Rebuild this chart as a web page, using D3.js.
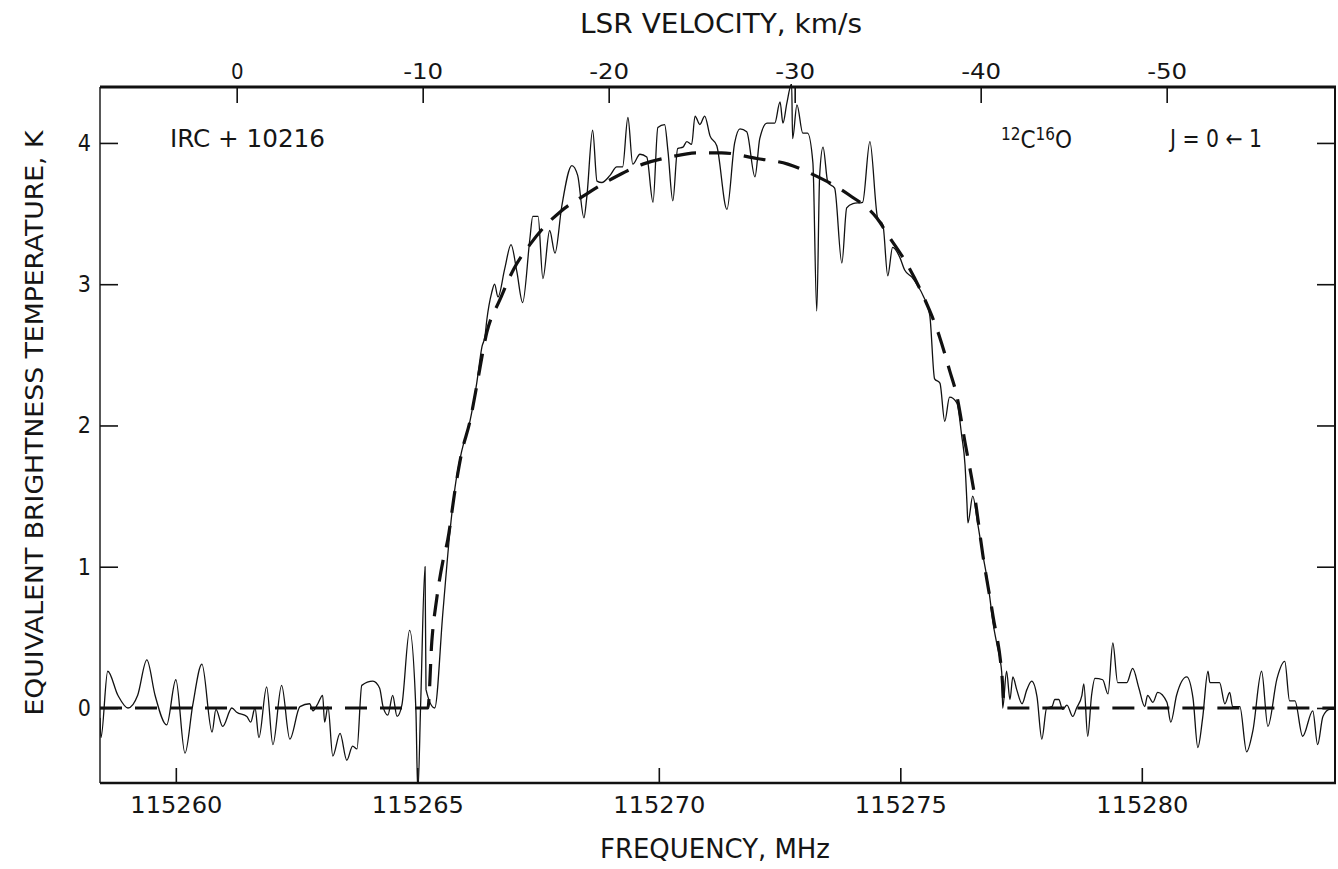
<!DOCTYPE html>
<html><head><meta charset="utf-8">
<script src="https://cdn.jsdelivr.net/npm/d3@7"></script>
<style>
body{margin:0;background:#fff;}
svg{display:block;}
text{font-family:"DejaVu Sans Condensed","DejaVu Sans",sans-serif;fill:#151515;}
</style></head><body>
<svg id="c" width="1338" height="869"></svg>
<script>
// ---- data ----
const freqTicks = [115260, 115265, 115270, 115275, 115280];
const velTicks = [0, -10, -20, -30, -40, -50];
const tempTicks = [0, 1, 2, 3, 4];
const freqDomain = [115258.43, 115284.0];
const tempDomain = [-0.531, 4.396];
const velZeroFreq = 115261.26;   // MHz at LSR velocity 0
const mhzPerKms = 0.3851;        // MHz per km/s

const specFreq = [115258.43,115258.45,115258.59,115258.80,115259.01,115259.21,115259.40,115259.57,115259.81,115260.00,
115260.19,115260.35,115260.54,115260.75,115260.83,115260.97,115261.16,115261.26,115261.47,115261.55,
115261.64,115261.72,115261.88,115262.01,115262.19,115262.36,115262.57,115262.77,115262.84,115262.94,
115263.04,115263.08,115263.15,115263.25,115263.40,115263.54,115263.66,115263.75,115263.85,115264.08,
115264.22,115264.29,115264.39,115264.49,115264.58,115264.68,115264.84,115264.97,115265.01,115265.07,
115265.16,115265.18,115265.36,115265.53,115265.67,115265.78,115265.92,115266.09,115266.23,115266.34,
115266.40,115266.44,115266.54,115266.60,115266.67,115266.81,115266.94,115267.06,115267.18,115267.33,
115267.39,115267.50,115267.60,115267.74,115267.85,115267.99,115268.20,115268.32,115268.45,115268.51,
115268.63,115268.72,115268.82,115268.99,115269.13,115269.25,115269.36,115269.46,115269.61,115269.75,
115269.88,115269.98,115270.12,115270.19,115270.29,115270.39,115270.50,115270.58,115270.68,115270.75,
115270.85,115270.95,115271.06,115271.20,115271.41,115271.57,115271.68,115271.82,115271.99,115272.09,
115272.24,115272.40,115272.51,115272.57,115272.65,115272.75,115272.77,115272.86,115272.98,115273.08,
115273.19,115273.27,115273.33,115273.40,115273.50,115273.64,115273.79,115273.89,115274.02,115274.22,
115274.37,115274.53,115274.64,115274.74,115274.84,115274.99,115275.09,115275.24,115275.36,115275.47,
115275.61,115275.71,115275.82,115275.92,115276.02,115276.17,115276.27,115276.34,115276.38,115276.40,
115276.50,115276.60,115276.71,115276.79,115276.85,115276.92,115277.00,115277.10,115277.12,115277.20,
115277.27,115277.33,115277.41,115277.52,115277.62,115277.72,115277.83,115277.93,115278.03,115278.14,
115278.20,115278.28,115278.36,115278.45,115278.57,115278.65,115278.76,115278.80,115278.88,115278.96,
115279.03,115279.19,115279.30,115279.40,115279.50,115279.69,115279.81,115279.94,115280.06,115280.12,
115280.23,115280.33,115280.52,115280.60,115280.72,115280.93,115281.06,115281.16,115281.26,115281.37,
115281.41,115281.61,115281.72,115281.82,115281.88,115282.03,115282.17,115282.30,115282.48,115282.61,
115282.80,115282.96,115283.06,115283.17,115283.33,115283.54,115283.64,115283.75,115283.89,115284.00];

const specTemp = [-0.07,-0.21,0.26,0.09,0.00,0.09,0.34,0.09,-0.12,0.20,
-0.32,0.02,0.31,-0.17,-0.01,-0.13,0.00,-0.03,-0.06,-0.10,
0.00,-0.21,0.15,-0.26,0.16,-0.22,0.01,0.03,-0.02,0.03,
0.09,-0.10,0.01,-0.34,-0.18,-0.37,-0.27,-0.29,0.16,0.19,
0.14,0.01,-0.05,0.09,-0.06,0.02,0.55,-0.01,-0.60,0.04,
1.00,0.13,0.00,0.68,1.23,1.56,1.82,2.03,2.30,2.56,
2.63,2.75,2.94,3.00,2.91,3.11,3.28,3.09,2.87,3.32,
3.48,3.48,3.04,3.38,3.22,3.55,3.84,3.77,3.47,3.62,
4.09,3.73,3.72,3.77,3.83,3.83,4.18,3.85,3.92,3.90,
3.58,4.11,4.13,3.94,3.59,3.96,3.97,4.01,3.99,4.19,
4.13,4.19,4.05,3.98,3.53,4.00,4.10,4.08,3.76,4.03,
4.14,4.14,4.29,4.14,4.28,4.42,4.03,4.27,4.07,4.07,
3.86,2.81,3.77,3.97,3.72,3.68,3.15,3.54,3.57,3.58,
4.01,3.47,3.42,3.06,3.26,3.19,3.10,3.05,2.99,2.92,
2.78,2.33,2.30,2.03,2.20,2.16,1.93,1.72,1.45,1.31,
1.50,1.31,1.08,0.93,0.79,0.60,0.45,0.25,0.00,0.26,
0.06,0.22,0.13,0.03,0.13,0.19,0.08,-0.22,0.00,0.01,
0.06,0.06,-0.01,0.02,-0.06,0.00,0.09,0.17,-0.20,0.09,
0.21,0.20,0.10,0.46,0.18,0.18,0.28,0.14,0.01,0.09,
0.04,0.11,0.04,-0.10,0.09,0.22,0.07,-0.28,-0.07,0.26,
0.18,0.18,0.03,0.11,0.01,0.01,-0.31,-0.16,0.26,-0.13,
0.21,0.33,0.05,0.05,-0.20,-0.02,-0.26,-0.06,-0.01,-0.01];

const fitFreq = [115258.43,115265.22,115265.30,115265.40,115265.53,115265.63,115265.78,115265.92,115266.09,115266.23,
115266.44,115266.71,115267.00,115267.33,115267.64,115267.95,115268.51,115269.05,115269.67,115270.23,
115270.81,115271.30,115272.03,115272.67,115273.23,115273.95,115274.51,115274.78,115275.09,115275.47,
115275.82,115276.02,115276.17,115276.34,115276.54,115276.71,115276.92,115277.10,115277.16,115284.00];
const fitTemp = [0,0,0.47,0.77,1.04,1.19,1.54,1.81,2.03,2.28,
2.66,2.89,3.11,3.28,3.41,3.51,3.64,3.75,3.85,3.90,
3.93,3.93,3.89,3.85,3.77,3.63,3.47,3.33,3.17,2.92,
2.62,2.39,2.21,1.88,1.50,1.08,0.65,0.25,0,0];

// ---- layout ----
const L = 100, R = 1335, T = 87, B = 783;
const svg = d3.select("#c");
const x = d3.scaleLinear().domain(freqDomain).range([L, R]);
const y = d3.scaleLinear().domain(tempDomain).range([B, T]);
const vel = d3.scaleLinear()
  .domain(freqDomain.map(f => (velZeroFreq - f) / mhzPerKms))
  .range([L, R]);

svg.append("defs").append("clipPath").attr("id", "clip")
  .append("rect").attr("x", L).attr("y", T - 3).attr("width", R - L).attr("height", B - T + 3);

// axes
const gB = svg.append("g").attr("transform", `translate(0,${B})`)
  .call(d3.axisBottom(x).tickValues(freqTicks).tickSize(-15).tickPadding(14).tickFormat(d3.format("d")));
gB.selectAll("text").attr("font-size", 23).attr("textLength", 92).attr("lengthAdjust", "spacingAndGlyphs");

const gT = svg.append("g").attr("transform", `translate(0,${T})`)
  .call(d3.axisTop(vel).tickValues(velTicks).tickSize(-16).tickPadding(8).tickFormat(d => String(d)));
gT.selectAll("text").attr("font-size", 22)
  .each(function(d){ if (d !== 0) d3.select(this).attr("textLength", 40).attr("lengthAdjust", "spacingAndGlyphs"); });

const gL = svg.append("g").attr("transform", `translate(${L},0)`)
  .call(d3.axisLeft(y).tickValues(tempTicks).tickSize(-18).tickPadding(9).tickFormat(d3.format("d")));
gL.selectAll("text").attr("font-size", 23);

const gR = svg.append("g").attr("transform", `translate(${R},0)`)
  .call(d3.axisRight(y).tickValues(tempTicks).tickSize(-18).tickFormat(""));

[gB, gT, gL, gR].forEach(g => {
  g.select(".domain").remove();
  g.selectAll(".tick line").attr("stroke", "#111").attr("stroke-width", 1.6);
  g.selectAll("text").attr("fill", "#151515").style("font-family", '"DejaVu Sans Condensed","DejaVu Sans",sans-serif');
});

// frame
const frame = svg.append("g").attr("stroke", "#111").attr("fill", "none");
frame.append("line").attr("x1", L).attr("x2", R + 1).attr("y1", T).attr("y2", T).attr("stroke-width", 3);
frame.append("line").attr("x1", L).attr("x2", R + 1).attr("y1", B).attr("y2", B).attr("stroke-width", 2.6);
frame.append("line").attr("x1", L).attr("x2", L).attr("y1", T).attr("y2", B).attr("stroke-width", 1.4);
frame.append("line").attr("x1", R).attr("x2", R).attr("y1", T).attr("y2", B).attr("stroke-width", 2);

// data lines
const plot = svg.append("g").attr("clip-path", "url(#clip)");
const spec = specFreq.map((f, i) => [f, specTemp[i]]);
const fit = fitFreq.map((f, i) => [f, fitTemp[i]]);

plot.append("path").datum(fit)
  .attr("d", d3.line().x(d => x(d[0])).y(d => y(d[1])).curve(d3.curveMonotoneX))
  .attr("fill", "none").attr("stroke", "#111").attr("stroke-width", 3.2)
  .attr("stroke-dasharray", "22,13");

plot.append("path").datum(spec)
  .attr("d", d3.line().x(d => x(d[0])).y(d => y(d[1])).curve(d3.curveMonotoneX))
  .attr("fill", "none").attr("stroke", "#111").attr("stroke-width", 1.3)
  .attr("stroke-linejoin", "round");

// titles
svg.append("text").attr("x", 721).attr("y", 33).attr("text-anchor", "middle")
  .attr("font-size", 26).attr("textLength", 282).attr("lengthAdjust", "spacingAndGlyphs")
  .text("LSR VELOCITY, km/s");
svg.append("text").attr("x", 715).attr("y", 858).attr("text-anchor", "middle")
  .attr("font-size", 26).attr("textLength", 230).attr("lengthAdjust", "spacingAndGlyphs")
  .text("FREQUENCY, MHz");
svg.append("text").attr("transform", "translate(43,423) rotate(-90)").attr("text-anchor", "middle")
  .attr("font-size", 25).attr("textLength", 585).attr("lengthAdjust", "spacingAndGlyphs")
  .text("EQUIVALENT BRIGHTNESS TEMPERATURE, K");

// annotations
svg.append("text").attr("x", 170).attr("y", 147).attr("font-size", 24)
  .attr("textLength", 155).attr("lengthAdjust", "spacingAndGlyphs").text("IRC + 10216");
const mol = svg.append("text").attr("x", 1001).attr("y", 148).attr("font-size", 24);
mol.append("tspan").attr("font-size", 17).attr("dy", -8).text("12");
mol.append("tspan").attr("dy", 8).text("C");
mol.append("tspan").attr("font-size", 17).attr("dy", -8).text("16");
mol.append("tspan").attr("dy", 8).text("O");
svg.append("text").attr("x", 1170).attr("y", 147).attr("font-size", 24)
  .attr("textLength", 92).attr("lengthAdjust", "spacingAndGlyphs").text("J = 0 ← 1");
</script>
</body></html>
